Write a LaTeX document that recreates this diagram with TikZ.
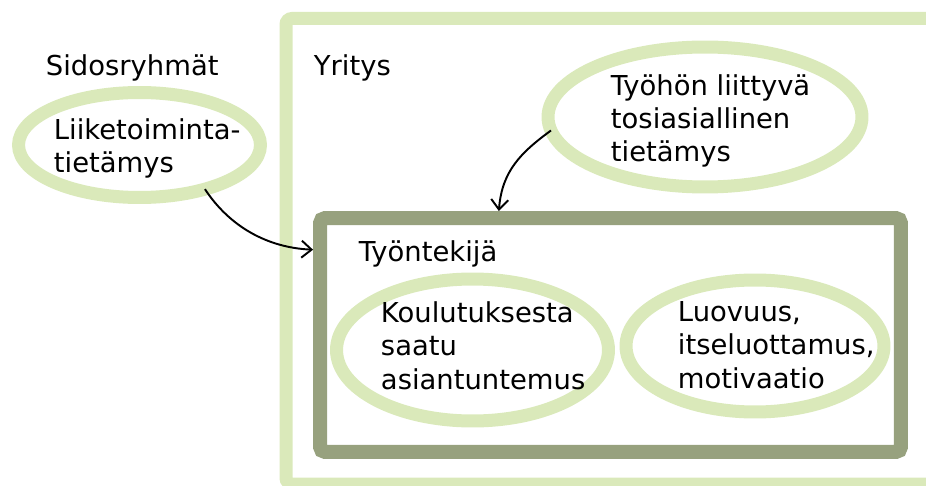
\documentclass[tikz,border=0pt]{standalone}
\usepackage{fontspec}
\setmainfont{DejaVu Sans}
\usepackage{tikz}
\usetikzlibrary{arrows.meta,shapes}
\definecolor{lightgreen}{RGB}{218,233,186}
\definecolor{darkolive}{RGB}{151,161,126}

\begin{document}
\begin{tikzpicture}[x=0.02cm,y=-0.02cm,>={Straight Barb[length=0.2cm,width=0.34cm]},line width=1.1pt,font=\fontsize{15.6}{18.8}\selectfont]
 \tikzstyle{bubble}=[ellipse,draw=lightgreen,line width=0.26cm,outer sep=0]
 \tikzstyle{txt}=[anchor=base west,inner sep=0,align=left]

 \useasboundingbox (0,0) rectangle (926,486);
 \clip (0,0) rectangle (926,486);

 \draw[draw=lightgreen,line width=0.26cm,rounded corners=0.12cm] (286,18.5) rectangle (960,484);
 \node[draw=darkolive,line width=0.28cm,rounded corners=0.1cm,minimum width=11.62cm,minimum height=4.68cm,inner sep=0] (tyo) at (610.5,335) {};

 \node[bubble,minimum width=4.84cm,minimum height=2.10cm] (liike) at (139.5,145) {};
 \node[bubble,minimum width=6.28cm,minimum height=2.80cm] (tieto) at (705,117) {};
 \node[bubble,minimum width=5.44cm,minimum height=2.84cm] (koulu) at (472.5,350) {};
 \node[bubble,minimum width=5.16cm,minimum height=2.64cm] (luovuus) at (755,346) {};

 \node[txt] (sidos) at (45,76) {Sidosryhmät};
 \node[txt] (yritys) at (313,76) {Yritys};
 \node[txt] (tyontekija) at (358,261) {Työntekijä};
 \node[txt] (liiketxt) at (53,173) {Liiketoiminta-\\tietämys};
 \node[txt] (tietotxt) at (610,162) {Työhön liittyvä\\tosiasiallinen\\tietämys};
 \node[txt] (koulutxt) at (380,389) {Koulutuksesta\\saatu\\asiantuntemus};
 \node[txt] (luovtxt) at (677,388) {Luovuus,\\itseluottamus,\\motivaatio};

 \draw[->] (liike.326) .. controls +(25,38) and +(-45,-2) .. (tyo.164);
 \draw[->] (tieto.185) .. controls +(-30,22) and +(3,-40) .. (tyo.132);
\end{tikzpicture}
\end{document}
